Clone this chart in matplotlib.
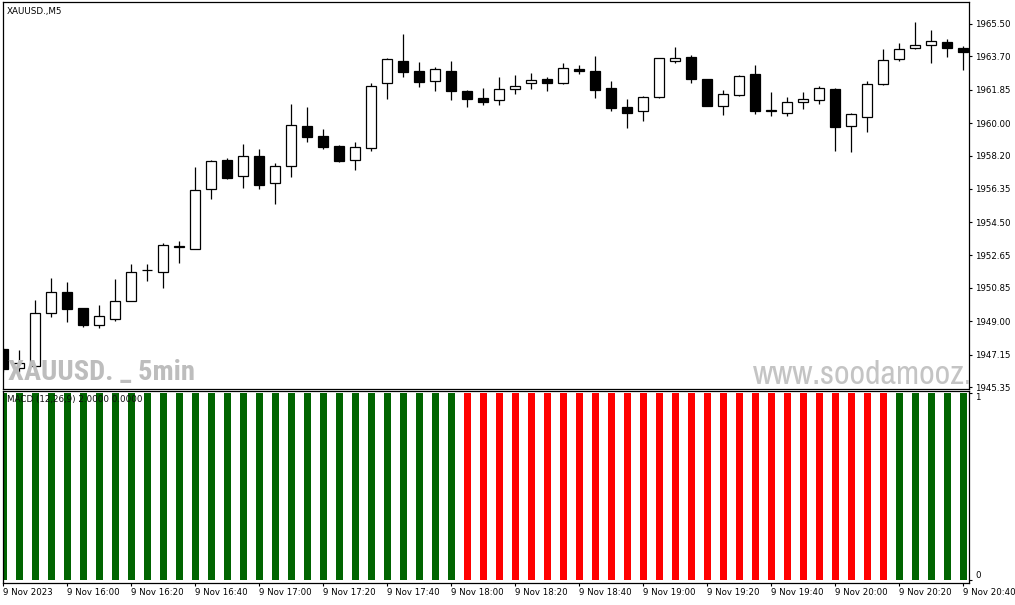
import numpy as np
import matplotlib
matplotlib.use("Agg")
import matplotlib.pyplot as plt

# Dane świec XAUUSD M5
opens = [1947.46, 1946.40, 1946.52, 1949.44, 1950.62, 1949.72, 1948.81, 1949.14, 1950.14, 1951.82,
         1951.72, 1953.12, 1953.03, 1956.32, 1957.95, 1957.05, 1958.16, 1956.66, 1957.60, 1959.82,
         1959.27, 1958.71, 1957.93, 1958.60, 1962.21, 1963.43, 1962.87, 1962.32, 1962.87, 1961.78,
         1961.38, 1961.26, 1961.88, 1962.21, 1962.43, 1962.21, 1962.99, 1962.87, 1961.93, 1960.88,
         1960.65, 1961.43, 1963.43, 1963.65, 1962.43, 1960.93, 1961.58, 1962.71, 1960.68, 1960.58,
         1961.15, 1961.26, 1961.88, 1959.85, 1960.35, 1962.15, 1963.54, 1964.15, 1964.32, 1964.48,
         1964.15]
highs = [1947.50, 1947.40, 1950.18, 1951.38, 1951.16, 1949.75, 1949.89, 1951.33, 1952.18, 1952.18,
         1953.33, 1953.45, 1957.56, 1957.95, 1958.06, 1958.84, 1958.55, 1957.78, 1961.06, 1960.89,
         1959.67, 1958.78, 1958.95, 1962.21, 1963.60, 1964.94, 1963.37, 1963.13, 1963.45, 1961.84,
         1961.93, 1962.54, 1962.67, 1962.78, 1962.54, 1963.34, 1963.21, 1963.72, 1962.32, 1961.32,
         1961.49, 1963.62, 1964.22, 1963.76, 1962.45, 1961.82, 1962.65, 1963.21, 1961.71, 1961.43,
         1961.71, 1962.04, 1961.93, 1960.54, 1962.32, 1964.10, 1964.43, 1965.59, 1965.15, 1964.65,
         1964.26]
lows = [1946.20, 1946.18, 1946.30, 1949.25, 1948.98, 1948.70, 1948.64, 1949.03, 1950.10, 1951.25,
        1950.86, 1952.22, 1953.00, 1955.80, 1956.88, 1956.41, 1956.36, 1955.52, 1957.02, 1958.97,
        1958.56, 1957.86, 1957.41, 1958.47, 1961.35, 1962.57, 1962.02, 1961.80, 1961.30, 1960.91,
        1961.02, 1961.02, 1961.63, 1961.91, 1961.80, 1962.18, 1962.71, 1961.41, 1960.69, 1959.74,
        1960.13, 1961.40, 1963.32, 1962.24, 1960.94, 1960.47, 1961.52, 1960.52, 1960.41, 1960.41,
        1960.80, 1961.08, 1958.47, 1958.41, 1959.52, 1962.13, 1963.43, 1964.10, 1963.32, 1963.65,
        1962.93]
closes = [1946.35, 1946.68, 1949.46, 1950.61, 1949.70, 1948.81, 1949.27, 1950.12, 1951.72, 1951.86,
          1953.23, 1953.16, 1956.29, 1957.90, 1956.97, 1958.16, 1956.58, 1957.60, 1959.88, 1959.24,
          1958.69, 1957.91, 1958.66, 1962.04, 1963.54, 1962.85, 1962.30, 1962.99, 1961.80, 1961.35,
          1961.19, 1961.88, 1962.04, 1962.37, 1962.21, 1963.04, 1962.87, 1961.85, 1960.85, 1960.58,
          1961.43, 1963.60, 1963.60, 1962.46, 1960.96, 1961.60, 1962.60, 1960.69, 1960.70, 1961.15,
          1961.32, 1961.93, 1959.80, 1960.49, 1962.15, 1963.48, 1964.10, 1964.32, 1964.54, 1964.15,
          1963.93]

# Histogram MACD: wartosc i kierunek (1 = wzrost, 0 = spadek)
hist = [1, 1, 1, 1, 1, 1, 1, 1, 1, 1, 1, 1, 1, 1, 1, 1, 1, 1, 1, 1,
        1, 1, 1, 1, 1, 1, 1, 1, 1, 1, 1, 1, 1, 1, 1, 1, 1, 1, 1, 1,
        1, 1, 1, 1, 1, 1, 1, 1, 1, 1, 1, 1, 1, 1, 1, 1, 1, 1, 1, 1, 1]
trend = [1, 1, 1, 1, 1, 1, 1, 1, 1, 1, 1, 1, 1, 1, 1, 1, 1, 1, 1, 1,
         1, 1, 1, 1, 1, 1, 1, 1, 1, 0, 0, 0, 0, 0, 0, 0, 0, 0, 0, 0,
         0, 0, 0, 0, 0, 0, 0, 0, 0, 0, 0, 0, 0, 0, 0, 0, 1, 1, 1, 1, 1]

price_ticks = ["1965.50", "1963.70", "1961.85", "1960.00", "1958.20", "1956.35",
               "1954.50", "1952.65", "1950.85", "1949.00", "1947.15", "1945.35"]
time_labels = ["9 Nov 2023", "9 Nov 16:00", "9 Nov 16:20", "9 Nov 16:40", "9 Nov 17:00",
               "9 Nov 17:20", "9 Nov 17:40", "9 Nov 18:00", "9 Nov 18:20", "9 Nov 18:40",
               "9 Nov 19:00", "9 Nov 19:20", "9 Nov 19:40", "9 Nov 20:00", "9 Nov 20:20",
               "9 Nov 20:40"]

narrow_bold = ["Roboto Condensed", "Archivo Narrow", "DejaVu Sans"]
narrow = ["Archivo Narrow", "Roboto Condensed", "DejaVu Sans"]

o = np.array(opens)
h = np.array(highs)
l = np.array(lows)
c = np.array(closes)
x = np.arange(len(o))

W, H = 1015, 605
fig = plt.figure(figsize=(W / 100, H / 100), dpi=100)
ax = fig.add_axes([2.5 / W, 1 - 389 / H, 966.5 / W, 387 / H])
ax2 = fig.add_axes([2.5 / W, 1 - 583.3 / H, 966.5 / W, 192 / H])

# Swiece
up = c >= o
ax.vlines(x, l, h, color="black", linewidth=0.9, zorder=1)
ax.bar(x, np.abs(c - o), bottom=np.minimum(o, c), width=0.64,
       color=np.where(up, "white", "black"), edgecolor="black", linewidth=0.9, zorder=2)

ax.set_xlim(-0.05, 60.36)
ax.set_ylim(1945.239, 1966.721)
ax.set_xticks([])
ax.yaxis.tick_right()
ax.set_yticks([float(t) for t in price_ticks])
ax.set_yticklabels(price_ticks)
ax.tick_params(axis="y", length=2.5, width=0.8, pad=2, labelsize=6.2, direction="out")
for s in ax.spines.values():
    s.set_linewidth(0.9)

ax.text(0.0047, 0.988, "XAUUSD.,M5", transform=ax.transAxes, ha="left", va="top",
        fontsize=6.3, color="black")
ax.text(0.0057, 0.023, "XAUUSD. _ 5min", transform=ax.transAxes, ha="left", va="baseline",
        fontsize=20.5, fontweight="heavy", color="#BDBDBD", family=narrow_bold, zorder=5)
ax.text(0.7765, 0.012, "www.soodamooz.com", transform=ax.transAxes, ha="left", va="baseline",
        fontsize=24.5, color="#C4C4C4", family=narrow, zorder=5, clip_on=True)

# Histogram MACD
cols = ["#006400" if t == 1 else "#FF0000" for t in trend]
ax2.bar(x, hist, width=0.42, color=cols, linewidth=0)
ax2.set_xlim(-0.05, 60.36)
ax2.set_ylim(-0.018, 1.011)
ax2.yaxis.tick_right()
ax2.set_yticks([0, 1])
ax2.set_yticklabels(["0", "1"])
ax2.tick_params(axis="y", length=2.5, width=0.8, pad=2, labelsize=6.2)
lbl = ax2.get_yticklabels()
lbl[0].set_va("bottom")
lbl[1].set_va("top")
ax2.set_xticks(x[::4])
ax2.set_xticklabels(time_labels, ha="left")
ax2.tick_params(axis="x", length=2.5, width=0.8, pad=1, labelsize=6.2)
for s in ax2.spines.values():
    s.set_linewidth(0.9)
ax2.text(0.0047, 0.955, "MACD (12,26,9) 2.0000 0.0000", transform=ax2.transAxes,
         ha="left", va="center", fontsize=6.3, color="#101010", zorder=5)

fig.savefig("out.png", dpi=100)
